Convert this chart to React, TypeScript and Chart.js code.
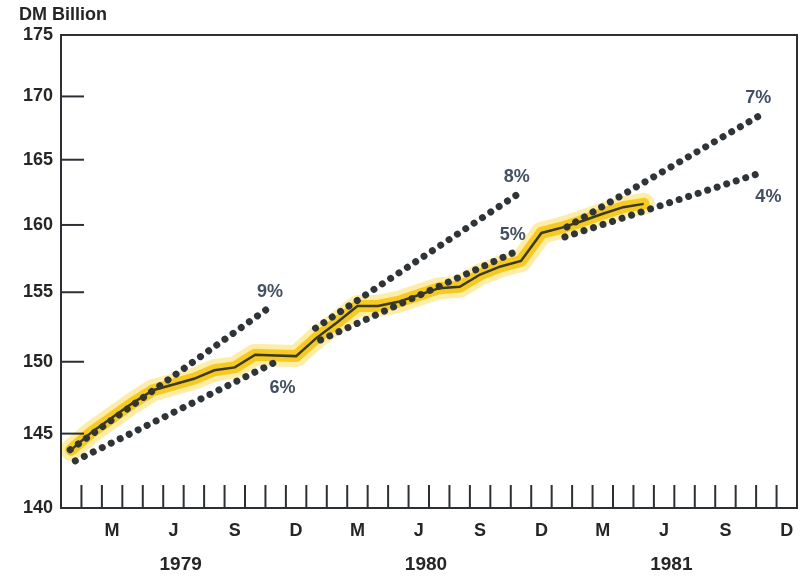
import { useEffect, useRef } from 'react';
import { Chart, registerables } from 'chart.js';

Chart.register(...registerables);

// ---- data ----
const yTickValues = [140, 145, 150, 155, 160, 165, 170, 175];
const monthLetters = ['M', 'J', 'S', 'D'];
const quarterMonths = [2, 5, 8, 11]; // Mar, Jun, Sep, Dec (0-based within year)
const years = ['1979', '1980', '1981'];

// central bank money stock, DM billion, monthly from Jan 1979
const actual1979 = [143.9, 145.1, 146.1, 147.1, 148.0, 148.4, 148.8, 149.4, 149.6, 150.5, 150.45, 150.4];
const actual1980 = [151.7, 152.8, 154.0, 154.0, 154.3, 154.8, 155.3, 155.4, 156.3, 156.9, 157.3, 159.4];
const actual1981 = [159.8, 160.3, 160.85, 161.35, 161.6];
const actualValues = [...actual1979, ...actual1980, ...actual1981];

// target corridors (month index from start of Jan 1979)
const corridorNames = ['9%', '6%', '8%', '5%', '7%', '4%'];
const corridorStartMonth = [0.45, 0.7, 12.45, 12.7, 24.75, 24.65];
const corridorStartValue = [143.9, 143.15, 152.4, 151.55, 159.85, 159.1];
const corridorEndMonth = [10.15, 10.45, 22.4, 22.1, 34.1, 34.35];
const corridorEndValue = [153.85, 149.95, 162.4, 157.9, 168.4, 164.05];
const labelMonth = [10.22, 10.83, 22.29, 22.1, 34.11, 34.6];
const labelValue = [155.04, 148.14, 163.69, 159.25, 169.85, 162.15];

const FONT = '"Liberation Sans", Arial, Helvetica, sans-serif';
const AXIS = '#2c3035';
const TEXT = '#262626';

export default function App() {
  const ref = useRef<HTMLCanvasElement | null>(null);

  useEffect(() => {
    const canvas = ref.current;
    if (!canvas) return;
    document.body.style.margin = '0';
    document.body.style.background = '#ffffff';

    const actualData = actualValues.map((v, i) => ({ x: i + 0.5, y: v }));

    const corridorSets = corridorNames.map((name, i) => ({
      label: name,
      data: [
        { x: corridorStartMonth[i], y: corridorStartValue[i] },
        { x: corridorEndMonth[i], y: corridorEndValue[i] },
      ],
      borderColor: '#2f3438',
      borderWidth: 7,
      borderDash: [0.01, 10],
      borderCapStyle: 'round' as const,
      pointRadius: 0,
      fill: false,
      order: 2,
    }));

    const xTickValues: number[] = [];
    for (let y = 0; y < years.length; y++) {
      quarterMonths.forEach((m) => xTickValues.push(y * 12 + m + 0.5));
    }

    const decor = {
      id: 'decor',
      afterDraw(chart: any) {
        const { ctx, chartArea } = chart;
        const xs = chart.scales.x;
        const ys = chart.scales.y;
        ctx.save();
        // frame
        ctx.strokeStyle = AXIS;
        ctx.lineWidth = 2;
        ctx.strokeRect(chartArea.left, chartArea.top, chartArea.right - chartArea.left, chartArea.bottom - chartArea.top);
        // inward y ticks
        yTickValues.slice(1, -1).forEach((v) => {
          const py = ys.getPixelForValue(v);
          ctx.beginPath();
          ctx.moveTo(chartArea.left, py);
          ctx.lineTo(chartArea.left + 23, py);
          ctx.stroke();
        });
        // monthly ticks rising from bottom axis
        for (let k = 1; k < 36; k++) {
          const px = xs.getPixelForValue(k);
          ctx.beginPath();
          ctx.moveTo(px, chartArea.bottom);
          ctx.lineTo(px, chartArea.bottom - 23);
          ctx.stroke();
        }
        // percentage labels
        ctx.fillStyle = '#435063';
        ctx.font = `bold 18px ${FONT}`;
        ctx.textAlign = 'center';
        ctx.textBaseline = 'middle';
        corridorNames.forEach((n, i) => {
          ctx.fillText(n, xs.getPixelForValue(labelMonth[i]), ys.getPixelForValue(labelValue[i]));
        });
        // years
        ctx.fillStyle = TEXT;
        ctx.font = `bold 19px ${FONT}`;
        years.forEach((yr, i) => {
          ctx.fillText(yr, xs.getPixelForValue(i * 12 + 6) - 3, chartArea.bottom + 57);
        });
        // unit label
        ctx.textAlign = 'left';
        ctx.font = `bold 18px ${FONT}`;
        ctx.fillText('DM Billion', chartArea.left - 42, chartArea.top - 20);
        ctx.restore();
      },
    };

    const chart = new Chart(canvas, {
      type: 'line',
      data: {
        datasets: [
          {
            label: 'Central bank money',
            data: actualData,
            borderColor: '#3a3a18',
            borderWidth: 2.5,
            pointRadius: 0,
            fill: false,
            order: 0,
          },
          ...corridorSets,
          {
            label: 'glow-inner',
            data: actualData,
            borderColor: 'rgba(245, 196, 10, 0.85)',
            borderWidth: 12,
            borderCapStyle: 'round',
            borderJoinStyle: 'round',
            pointRadius: 0,
            fill: false,
            order: 3,
          },
          {
            label: 'glow-outer',
            data: actualData,
            borderColor: 'rgba(250, 214, 60, 0.45)',
            borderWidth: 22,
            borderCapStyle: 'round',
            borderJoinStyle: 'round',
            pointRadius: 0,
            fill: false,
            order: 4,
          },
        ],
      },
      options: {
        responsive: false,
        animation: false,
        layout: { padding: { top: 35, right: 9, bottom: 0, left: 0 } },
        plugins: { legend: { display: false }, tooltip: { enabled: false }, title: { display: false } },
        elements: { point: { radius: 0 }, line: { tension: 0 } },
        scales: {
          x: {
            type: 'linear',
            min: 0,
            max: 36,
            grid: { display: false, drawTicks: false },
            border: { display: false },
            afterBuildTicks: (scale: any) => {
              scale.ticks = xTickValues.map((v) => ({ value: v }));
            },
            afterFit: (scale: any) => {
              scale.height = 69;
            },
            ticks: {
              autoSkip: false,
              maxRotation: 0,
              padding: 12,
              color: TEXT,
              font: { family: FONT, size: 18, weight: 'bold' },
              callback: (value: any) => {
                const m = Math.floor(Number(value)) % 12;
                const idx = quarterMonths.indexOf(m);
                return idx >= 0 ? monthLetters[idx] : '';
              },
            },
          },
          y: {
            type: 'logarithmic',
            min: 140,
            max: 175,
            grid: { display: false, drawTicks: false },
            border: { display: false },
            afterBuildTicks: (scale: any) => {
              scale.ticks = yTickValues.map((v) => ({ value: v }));
            },
            afterFit: (scale: any) => {
              scale.width = 61;
            },
            ticks: {
              autoSkip: false,
              padding: 8,
              color: TEXT,
              font: { family: FONT, size: 18, weight: 'bold' },
              callback: (value: any) => String(value),
            },
          },
        },
      },
      plugins: [decor],
    } as any);

    return () => chart.destroy();
  }, []);

  return (
    <div style={{ position: 'fixed', left: 0, top: 0, width: 806, height: 577, background: '#fff' }}>
      <canvas ref={ref} width={806} height={577} />
    </div>
  );
}
